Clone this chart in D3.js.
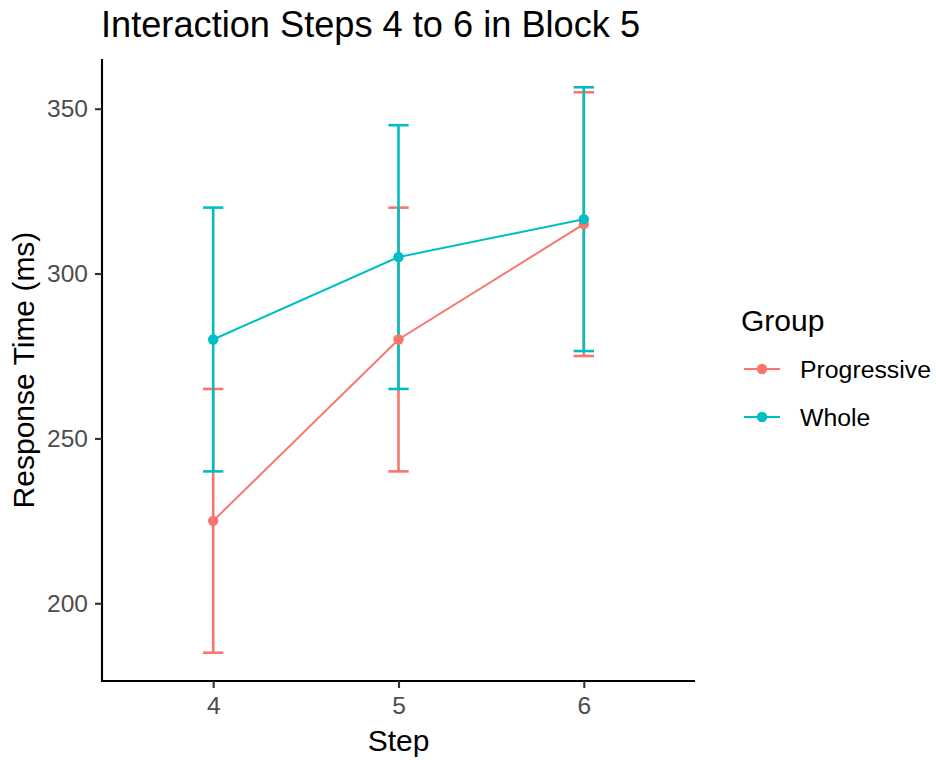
<!DOCTYPE html>
<html>
<head>
<meta charset="utf-8">
<script src="https://cdn.jsdelivr.net/npm/d3@7"></script>
<style>
  body { margin: 0; background: #fff; }
  svg { font-family: "Liberation Sans", Arial, sans-serif; }
</style>
</head>
<body>
<svg width="936" height="760"></svg>
<script>
// data
var steps = ["4", "5", "6"];
var groups = ["Progressive", "Whole"];
var groupColors = ["#F8766D", "#00BFC4"];
var progressiveMean = [225, 280, 315];
var progressiveLower = [185, 240, 275];
var progressiveUpper = [265, 320, 355];
var wholeMean = [280, 305, 316.5];
var wholeLower = [240, 265, 276.5];
var wholeUpper = [320, 345, 356.5];
var yTicks = [200, 250, 300, 350];

var svg = d3.select('svg');

var panel = { left: 102, right: 695, top: 59, bottom: 681 };

var series = [
  { name: groups[0], color: groupColors[0], mean: progressiveMean, lo: progressiveLower, hi: progressiveUpper },
  { name: groups[1], color: groupColors[1], mean: wholeMean, lo: wholeLower, hi: wholeUpper }
];

var x = d3.scalePoint()
  .domain(steps)
  .range([panel.left, panel.right])
  .padding(0.6);

var yMin = d3.min(series, function(s) { return d3.min(s.lo); });
var yMax = d3.max(series, function(s) { return d3.max(s.hi); });
var pad = (yMax - yMin) * 0.05;
var y = d3.scaleLinear()
  .domain([yMin - pad, yMax + pad])
  .range([panel.bottom, panel.top]);

var whisker = x.step() * 0.11 / 2;

// error bars
series.forEach(function(s) {
  var g = svg.append('g').attr('stroke', s.color).attr('stroke-width', 2.6).attr('fill', 'none');
  steps.forEach(function(st, i) {
    var cx = x(st);
    g.append('line').attr('x1', cx).attr('x2', cx).attr('y1', y(s.lo[i])).attr('y2', y(s.hi[i]));
    g.append('line').attr('x1', cx - whisker).attr('x2', cx + whisker).attr('y1', y(s.lo[i])).attr('y2', y(s.lo[i]));
    g.append('line').attr('x1', cx - whisker).attr('x2', cx + whisker).attr('y1', y(s.hi[i])).attr('y2', y(s.hi[i]));
  });
});

// lines
var line = d3.line()
  .x(function(d, i) { return x(steps[i]); })
  .y(function(d) { return y(d); });
series.forEach(function(s) {
  svg.append('path')
    .attr('d', line(s.mean))
    .attr('fill', 'none')
    .attr('stroke', s.color)
    .attr('stroke-width', 2);
});

// points
series.forEach(function(s) {
  svg.append('g').selectAll('circle')
    .data(s.mean)
    .enter().append('circle')
    .attr('cx', function(d, i) { return x(steps[i]); })
    .attr('cy', function(d) { return y(d); })
    .attr('r', 5.2)
    .attr('fill', s.color);
});

// axes
var yAxis = svg.append('g')
  .attr('transform', 'translate(' + panel.left + ',0)')
  .call(d3.axisLeft(y).tickValues(yTicks).tickSize(7).tickPadding(7).tickSizeOuter(0));
var xAxis = svg.append('g')
  .attr('transform', 'translate(0,' + panel.bottom + ')')
  .call(d3.axisBottom(x).tickSize(7).tickPadding(9).tickSizeOuter(0));

[yAxis, xAxis].forEach(function(ax) {
  ax.select('.domain').attr('stroke', '#000').attr('stroke-width', 2.1);
  ax.selectAll('.tick line').attr('stroke', '#333').attr('stroke-width', 2.1);
  ax.selectAll('.tick text')
    .attr('fill', '#4D4D4D')
    .style('font-size', '24.5px')
    .style('font-family', '"Liberation Sans", Arial, sans-serif');
});
yAxis.select('.domain').attr('d', 'M0,' + panel.top + 'V' + panel.bottom);
xAxis.select('.domain').attr('d', 'M' + (panel.left - 1) + ',0H' + panel.right);

// titles
svg.append('text')
  .attr('x', 101)
  .attr('y', 37)
  .style('font-size', '36.2px')
  .attr('fill', '#000')
  .text('Interaction Steps 4 to 6 in Block 5');

svg.append('text')
  .attr('x', (panel.left + panel.right) / 2)
  .attr('y', 751)
  .attr('text-anchor', 'middle')
  .style('font-size', '30px')
  .text('Step');

svg.append('text')
  .attr('transform', 'translate(34,' + ((panel.top + panel.bottom) / 2) + ') rotate(-90)')
  .attr('text-anchor', 'middle')
  .style('font-size', '30px')
  .text('Response Time (ms)');

// legend
var legend = svg.append('g');
legend.append('text')
  .attr('x', 741)
  .attr('y', 331)
  .style('font-size', '30px')
  .text('Group');

var keys = legend.selectAll('g.key')
  .data(series)
  .enter().append('g')
  .attr('class', 'key')
  .attr('transform', function(d, i) { return 'translate(0,' + (369 + i * 48) + ')'; });
keys.append('line')
  .attr('x1', 744).attr('x2', 780)
  .attr('y1', 0).attr('y2', 0)
  .attr('stroke', function(d) { return d.color; })
  .attr('stroke-width', 2);
keys.append('circle')
  .attr('cx', 762).attr('cy', 0).attr('r', 5.2)
  .attr('fill', function(d) { return d.color; });
keys.append('text')
  .attr('x', 800)
  .attr('y', 0)
  .attr('dy', '0.36em')
  .style('font-size', '24.8px')
  .text(function(d) { return d.name; });
</script>
</body>
</html>
